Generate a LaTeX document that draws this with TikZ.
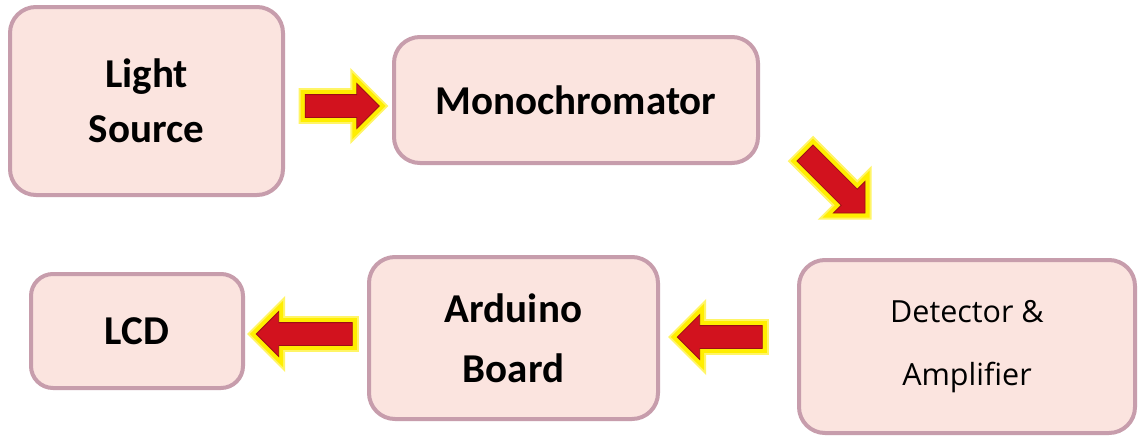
\documentclass[tikz,border=0pt]{standalone}
\usepackage{fontspec}
\setmainfont{Carlito}
\newfontfamily\detfont{Open Sans}
\usetikzlibrary{shapes.arrows,calc}
\definecolor{boxfill}{HTML}{FBE4DF}
\definecolor{boxline}{HTML}{C79DAC}
\definecolor{arrred}{HTML}{D2121E}
\definecolor{arrglow}{HTML}{FFEE00}
\begin{document}
\begin{tikzpicture}[x=1pt,y=-1pt,
  blk/.style={draw=boxline, line width=4pt, fill=boxfill, rounded corners=26pt,
    align=center, inner sep=0pt,
    font=\bfseries\fontsize{41}{55}\selectfont},
  barrow/.style={single arrow, single arrow tip angle=90,
    single arrow head extend=11pt, inner sep=0pt, inner ysep=11pt,
    minimum width=44pt, fill=arrred, draw=arrred!75!black, line width=0.8pt,
    line join=miter,
    preaction={draw=arrglow!60!white, line width=13pt, line join=miter},
    preaction={draw=arrglow, line width=9pt, line join=miter}}]
\useasboundingbox[fill=white] (0,0) rectangle (1140,437);
% boxes
\node[blk, minimum width=273pt, minimum height=188pt] (ls) at (146.5,101) {Light\\Source};
\node[blk, minimum width=364pt, minimum height=126pt] (mono) at (576,100) {Monochromator};
\node[blk, minimum width=336pt, minimum height=173pt,
      font=\detfont\fontsize{30.5}{63}\selectfont] (det) at (967,346.5) {Detector \&\\Amplifier};
\node[blk, minimum width=289pt, minimum height=162pt,
      font=\bfseries\fontsize{41}{60}\selectfont] (ard) at (513.5,338) {Arduino\\Board};
\node[blk, minimum width=212pt, minimum height=114pt, rounded corners=22pt] (lcd) at (137,331) {LCD};
% block arrows (connectors)
\node[barrow, minimum height=74pt] (a1) at (336.5,106) {};
\node[barrow, minimum height=85pt, rotate=-45] (a2) at (831,179) {};
\node[barrow, minimum height=85pt, rotate=180] (a3) at (725.5,337) {};
\node[barrow, minimum height=96pt, rotate=180] (a4) at (310,334) {};
\end{tikzpicture}
\end{document}
